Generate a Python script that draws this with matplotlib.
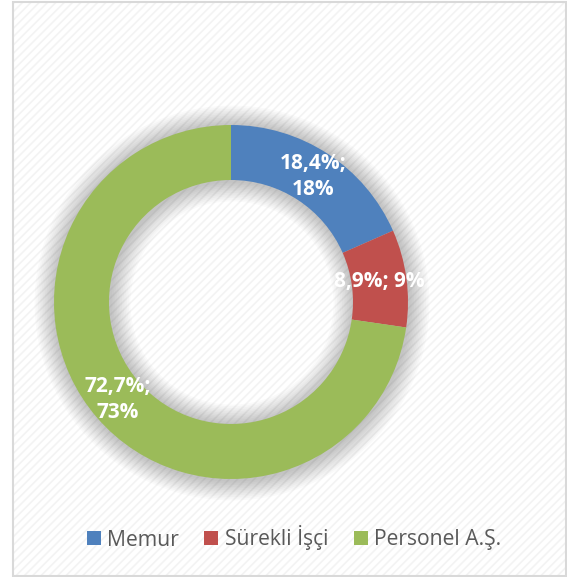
import matplotlib
matplotlib.use("Agg")
import matplotlib.pyplot as plt
from matplotlib.patches import Rectangle, Wedge

categories = ["Memur", "Sürekli İşçi", "Personel A.Ş."]
values = [18.4, 8.9, 72.7]
label_texts = ["18,4%;\n18%", "8,9%; 9%", "72,7%;\n73%"]
colors = ["#4F81BD", "#C0504D", "#9BBB59"]

W, H = 567, 577
plt.rcParams['hatch.linewidth'] = 1.2
fig = plt.figure(figsize=(W / 100, H / 100), dpi=100)
ax = fig.add_axes([0, 0, 1, 1])
ax.set_xlim(0, W)
ax.set_ylim(0, H)
ax.set_aspect('equal')
ax.axis('off')

# background with faint diagonal texture and frame
ax.add_patch(Rectangle((12.5, 1.5), 553, 574, facecolor='white',
                       edgecolor='none', zorder=0))
ax.add_patch(Rectangle((12.5, 1.5), 553, 574, facecolor='none',
                       edgecolor='#f3f3f3', hatch='////', linewidth=0, zorder=0.5))
ax.add_patch(Rectangle((12.5, 1.5), 553, 574, facecolor='none',
                       edgecolor='#d9d9d9', linewidth=1.5, zorder=5))

cx, cy = 231, H - 302
r_out, r_in = 177, 122
width = r_out - r_in

# soft shadow
for k in range(1, 13):
    d = k * 1.7
    ax.add_patch(Wedge((cx + 1, cy - 1), r_out + d, 0, 360, width=width + 2 * d,
                       facecolor='#000000', alpha=0.018, edgecolor='none', zorder=1))

wedges, texts, autotexts = ax.pie(
    values, colors=colors, startangle=90, counterclock=False,
    center=(cx, cy), radius=r_out, autopct='%1.1f', pctdistance=0.845,
    wedgeprops=dict(width=width, edgecolor='none', zorder=2), frame=True)
ax.set_xlim(0, W)
ax.set_ylim(0, H)
ax.axis('off')

for t, s in zip(autotexts, label_texts):
    t.set_text(s)
    t.set_color('white')
    t.set_fontsize(15)
    t.set_fontweight('bold')
    t.set_family('Open Sans')
    t.set_linespacing(1.3)
    t.set_zorder(4)

leg = ax.legend(wedges, categories, loc='center', bbox_to_anchor=(294 / W, 1 - 538 / H),
                ncol=3, frameon=False, prop={'family': 'Open Sans', 'size': 15.2},
                handlelength=0.66, handleheight=0.66, handletextpad=0.3,
                columnspacing=1.2)
for t in leg.get_texts():
    t.set_color('#595959')

fig.savefig('out.png', dpi=100)
